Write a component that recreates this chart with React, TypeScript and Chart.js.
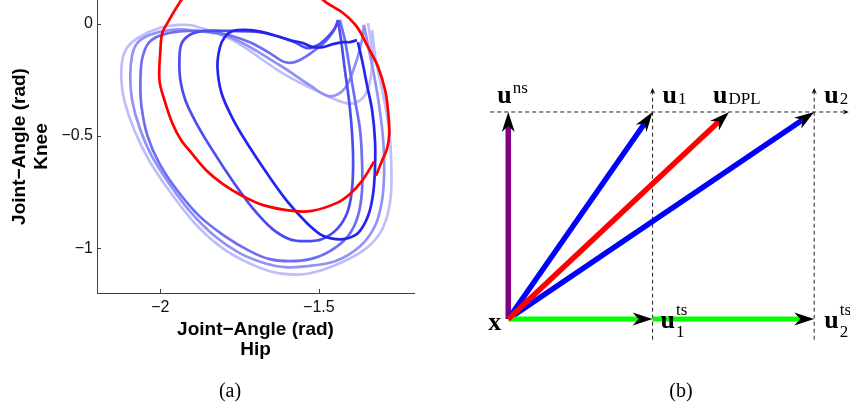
import React, { useEffect, useRef } from 'react';
import { Chart, registerables } from 'chart.js';

Chart.register(...registerables);

type Pt = [number, number];

// ---------- Panel (a): hip / knee joint-angle cycles (rad) ----------
const hipTicks = [-2, -1.5];
const kneeTicks = [-1, -0.5, 0];

// desired cycle; its top arc passes above the plotted knee range
const desiredCycle: Pt[] = [
  [-1.320, -0.677], [-1.301, -0.610], [-1.285, -0.556], [-1.278, -0.489], [-1.282, -0.386],
  [-1.291, -0.296], [-1.313, -0.193], [-1.345, -0.103], [-1.380, -0.013], [-1.424, 0.049],
  [-1.475, 0.094], [-1.513, 0.135], [-1.600, 0.180], [-1.830, 0.180], [-1.915, 0.135],
  [-1.940, 0.094], [-1.978, 0.004], [-1.994, -0.040], [-2.000, -0.117], [-2.003, -0.251],
  [-1.987, -0.341], [-1.962, -0.444], [-1.934, -0.520], [-1.908, -0.565], [-1.854, -0.655],
  [-1.804, -0.713], [-1.741, -0.767], [-1.676, -0.808], [-1.582, -0.834], [-1.522, -0.834],
  [-1.443, -0.798], [-1.402, -0.758], [-1.364, -0.700], [-1.326, -0.614],
];

const cycleA: Pt[] = [
  [-1.380, -0.072], [-1.402, -0.081], [-1.424, -0.081], [-1.456, -0.090], [-1.487, -0.103],
  [-1.519, -0.103], [-1.551, -0.085], [-1.592, -0.072], [-1.665, -0.040], [-1.718, -0.027],
  [-1.772, -0.031], [-1.797, -0.058], [-1.813, -0.108], [-1.820, -0.193], [-1.807, -0.309],
  [-1.772, -0.422], [-1.728, -0.529], [-1.665, -0.664], [-1.601, -0.789], [-1.538, -0.888],
  [-1.497, -0.937], [-1.465, -0.955], [-1.424, -0.960], [-1.377, -0.933], [-1.345, -0.857],
  [-1.329, -0.758], [-1.323, -0.641], [-1.323, -0.520], [-1.332, -0.386], [-1.348, -0.274],
  [-1.364, -0.161], [-1.377, -0.081],
];

const cycleB: Pt[] = [
  [-1.440, 0.018], [-1.430, -0.072], [-1.418, -0.206], [-1.405, -0.341], [-1.396, -0.475],
  [-1.392, -0.610], [-1.396, -0.744], [-1.411, -0.843], [-1.443, -0.915], [-1.491, -0.960],
  [-1.544, -0.969], [-1.592, -0.960], [-1.646, -0.915], [-1.709, -0.821], [-1.772, -0.700],
  [-1.835, -0.565], [-1.886, -0.444], [-1.921, -0.341], [-1.937, -0.251], [-1.940, -0.161],
  [-1.934, -0.090], [-1.908, -0.049], [-1.861, -0.031], [-1.782, -0.031], [-1.687, -0.036],
  [-1.623, -0.058], [-1.576, -0.081], [-1.538, -0.108], [-1.503, -0.094], [-1.472, -0.058],
  [-1.449, -0.018], [-1.440, 0.018],
];

const cycleC: Pt[] = [
  [-1.434, 0.018], [-1.418, -0.072], [-1.402, -0.206], [-1.386, -0.341], [-1.370, -0.475],
  [-1.364, -0.610], [-1.364, -0.744], [-1.377, -0.857], [-1.408, -0.946], [-1.465, -1.013],
  [-1.528, -1.049], [-1.592, -1.058], [-1.655, -1.049], [-1.718, -1.013], [-1.797, -0.946],
  [-1.877, -0.857], [-1.946, -0.744], [-2.003, -0.623], [-2.041, -0.498], [-2.060, -0.363],
  [-2.063, -0.251], [-2.057, -0.152], [-2.035, -0.081], [-1.987, -0.045], [-1.908, -0.031],
  [-1.813, -0.040], [-1.718, -0.081], [-1.655, -0.130], [-1.608, -0.170], [-1.576, -0.170],
  [-1.544, -0.148], [-1.513, -0.117], [-1.481, -0.081], [-1.456, -0.036], [-1.440, 0.009],
];

const cycleD: Pt[] = [
  [-1.358, -0.004], [-1.345, -0.094], [-1.326, -0.229], [-1.310, -0.363], [-1.297, -0.520],
  [-1.294, -0.655], [-1.301, -0.789], [-1.323, -0.901], [-1.370, -0.991], [-1.449, -1.058],
  [-1.544, -1.081], [-1.608, -1.085], [-1.671, -1.067], [-1.750, -1.022], [-1.829, -0.946],
  [-1.908, -0.834], [-1.972, -0.713], [-2.028, -0.587], [-2.066, -0.462], [-2.089, -0.341],
  [-2.095, -0.229], [-2.089, -0.139], [-2.073, -0.085], [-2.035, -0.049], [-1.972, -0.027],
  [-1.908, -0.027], [-1.782, -0.058], [-1.623, -0.184], [-1.528, -0.274], [-1.465, -0.323],
  [-1.418, -0.287], [-1.386, -0.184], [-1.364, -0.072], [-1.358, -0.004],
];

const cycleE: Pt[] = [
  [-1.332, -0.027], [-1.323, -0.139], [-1.307, -0.251], [-1.291, -0.363], [-1.278, -0.475],
  [-1.272, -0.610], [-1.272, -0.744], [-1.282, -0.843], [-1.307, -0.933], [-1.354, -1.004],
  [-1.434, -1.067], [-1.528, -1.112], [-1.592, -1.117], [-1.655, -1.103], [-1.734, -1.058],
  [-1.813, -0.991], [-1.892, -0.888], [-1.972, -0.744], [-2.035, -0.610], [-2.082, -0.475],
  [-2.114, -0.341], [-2.123, -0.251], [-2.120, -0.161], [-2.104, -0.103], [-2.066, -0.058],
  [-2.003, -0.018], [-1.940, -0.004], [-1.892, -0.009], [-1.772, -0.072], [-1.614, -0.220],
  [-1.497, -0.305], [-1.411, -0.354], [-1.370, -0.341], [-1.345, -0.287], [-1.332, -0.184],
  [-1.335, -0.094], [-1.345, 0.004],
];

const cycles = [cycleA, cycleB, cycleC, cycleD, cycleE];
const cycleColors = ['rgb(36,36,240)', 'rgb(76,76,241)', 'rgb(110,110,243)', 'rgb(146,146,246)', 'rgb(190,190,250)'];

// ---------- Panel (b): vector construction ----------
const origin: Pt = [0, 0];
const uNs: Pt = [0, 1];
const u1: Pt = [1, 1];
const uDpl: Pt = [1.53, 1];
const u2: Pt = [2.12, 1];
const u1Ts: Pt = [1, 0];
const u2Ts: Pt = [2.12, 0];
const levelGuide: Pt[] = [[-0.125, 1], [2.36, 1]];
const u1Guide: Pt[] = [[1, -0.1], [1, 1.116]];
const u2Guide: Pt[] = [[2.12, -0.1], [2.12, 1.116]];

const SANS = '"Liberation Sans", Arial, Helvetica, sans-serif';
const SERIF = '"Liberation Serif", "Times New Roman", serif';
const MINUS = '\u2212';

const toXY = (pts: Pt[]) => pts.map(([x, y]) => ({ x, y }));
const fmtTick = (v: number | string) => {
  const n = Number(v);
  return n < 0 ? MINUS + String(Math.abs(n)) : String(n);
};

// short tick marks pointing into the plot area
const inwardTicks = {
  id: 'inwardTicks',
  afterDraw(chart: any) {
    const { ctx, chartArea, scales } = chart;
    ctx.save();
    ctx.strokeStyle = '#404040';
    ctx.lineWidth = 1;
    ctx.beginPath();
    for (const t of scales.x.ticks) {
      const px = Math.round(scales.x.getPixelForValue(t.value)) + 0.5;
      ctx.moveTo(px, chartArea.bottom);
      ctx.lineTo(px, chartArea.bottom - 4);
    }
    for (const t of scales.y.ticks) {
      const py = Math.round(scales.y.getPixelForValue(t.value)) + 0.5;
      ctx.moveTo(chartArea.left, py);
      ctx.lineTo(chartArea.left + 4, py);
    }
    ctx.stroke();
    ctx.restore();
  },
};

const HEADS: Record<string, { L: number; W: number; N: number }> = {
  big: { L: 20, W: 6.5, N: 14 },
  small: { L: 6, W: 2.6, N: 4 },
};

function headGeometry(meta: any) {
  const pts = meta.data;
  const tip = pts[pts.length - 1];
  const prev = pts[pts.length - 2];
  const dx = tip.x - prev.x;
  const dy = tip.y - prev.y;
  const len = Math.hypot(dx, dy) || 1;
  const ux = dx / len;
  const uy = dy / len;
  return { tx: tip.x, ty: tip.y, ux, uy, nx: -uy, ny: ux };
}

type MathLabel = { at: Pt; base: string; sup?: string; sub?: string; dx: number; dy: number };
const vectorLabels: MathLabel[] = [
  { at: uNs, base: 'u', sup: 'ns', dx: -11, dy: -9 },
  { at: u1, base: 'u', sub: '1', dx: 10, dy: -9 },
  { at: uDpl, base: 'u', sub: 'DPL', dx: -16, dy: -9 },
  { at: u2, base: 'u', sub: '2', dx: 10, dy: -9 },
  { at: origin, base: 'x', dx: -20, dy: 11 },
  { at: u1Ts, base: 'u', sup: 'ts', sub: '1', dx: 8, dy: 9 },
  { at: u2Ts, base: 'u', sup: 'ts', sub: '2', dx: 10, dy: 9 },
];

const arrowPlugin = {
  id: 'arrowHeads',
  beforeDatasetDraw(chart: any, args: any) {
    const ds = chart.data.datasets[args.index];
    if (!ds.head) return;
    const { L, N } = HEADS[ds.head];
    const g = headGeometry(args.meta);
    const ctx = chart.ctx;
    const half = Math.max(8, L);
    const bx = g.tx - g.ux * N;
    const by = g.ty - g.uy * N;
    const fx = g.tx + g.ux * 4;
    const fy = g.ty + g.uy * 4;
    ctx.save();
    ctx.beginPath();
    ctx.rect(0, 0, chart.width, chart.height);
    ctx.moveTo(bx + g.nx * half, by + g.ny * half);
    ctx.lineTo(fx + g.nx * half, fy + g.ny * half);
    ctx.lineTo(fx - g.nx * half, fy - g.ny * half);
    ctx.lineTo(bx - g.nx * half, by - g.ny * half);
    ctx.closePath();
    ctx.clip('evenodd');
  },
  afterDatasetDraw(chart: any, args: any) {
    const ds = chart.data.datasets[args.index];
    if (ds.head) chart.ctx.restore();
  },
  afterDatasetsDraw(chart: any) {
    const ctx = chart.ctx;
    ctx.save();
    ctx.fillStyle = '#000';
    chart.data.datasets.forEach((ds: any, i: number) => {
      if (!ds.head) return;
      const { L, W, N } = HEADS[ds.head];
      const g = headGeometry(chart.getDatasetMeta(i));
      const bx = g.tx - g.ux * L;
      const by = g.ty - g.uy * L;
      ctx.beginPath();
      ctx.moveTo(g.tx, g.ty);
      ctx.lineTo(bx + g.nx * W, by + g.ny * W);
      ctx.lineTo(g.tx - g.ux * N, g.ty - g.uy * N);
      ctx.lineTo(bx - g.nx * W, by - g.ny * W);
      ctx.closePath();
      ctx.fill();
    });
    ctx.restore();
  },
  afterDraw(chart: any) {
    const ctx = chart.ctx;
    const { x: xs, y: ys } = chart.scales;
    ctx.save();
    ctx.fillStyle = '#000';
    ctx.textAlign = 'left';
    ctx.textBaseline = 'alphabetic';
    for (const lb of vectorLabels) {
      const px = xs.getPixelForValue(lb.at[0]) + lb.dx;
      const py = ys.getPixelForValue(lb.at[1]) + lb.dy;
      ctx.font = `bold 26px ${SERIF}`;
      ctx.fillText(lb.base, px, py);
      const w = ctx.measureText(lb.base).width + 1;
      ctx.font = `17px ${SERIF}`;
      if (lb.sup) ctx.fillText(lb.sup, px + w, py - (lb.sub ? 13 : 10));
      if (lb.sub) ctx.fillText(lb.sub, px + w, py + (lb.sup ? 9 : 1));
    }
    ctx.restore();
  },
};

export default function App() {
  const leftRef = useRef<HTMLCanvasElement>(null);
  const rightRef = useRef<HTMLCanvasElement>(null);

  useEffect(() => {
    const gaitSets: any[] = [
      { data: toXY(desiredCycle), borderColor: '#ff0000' },
      ...cycles.map((c, i) => ({ data: toXY(c), borderColor: cycleColors[i] })),
    ].map((d) => ({ ...d, showLine: true, fill: false, borderWidth: 2.7, tension: 0.35, pointRadius: 0 }));

    const left = new Chart(leftRef.current!, {
      type: 'scatter',
      data: { datasets: gaitSets },
      options: {
        responsive: false,
        animation: false,
        events: [],
        layout: { padding: { left: 0, right: 11, top: 0, bottom: 54 } },
        plugins: { legend: { display: false }, tooltip: { enabled: false } },
        scales: {
          x: {
            type: 'linear',
            min: -2.2,
            max: -1.2,
            afterBuildTicks: (s: any) => { s.ticks = hipTicks.map((value) => ({ value })); },
            afterFit: (s: any) => { s.height = 67; s.paddingLeft = 0; s.paddingRight = 0; },
            grid: { display: false, drawTicks: false },
            border: { display: true, color: '#404040', width: 1 },
            ticks: { font: { family: SANS, size: 16 }, color: '#111', padding: 5, maxRotation: 0, autoSkip: false, callback: fmtTick },
            title: {
              display: true,
              text: ['Joint\u2212Angle (rad)', 'Hip'],
              font: { family: SANS, size: 19, weight: 'bold', lineHeight: '20px' },
              color: '#000',
              padding: { top: 0, bottom: 0 },
            },
          },
          y: {
            type: 'linear',
            min: -1.2,
            max: 0.107,
            afterBuildTicks: (s: any) => { s.ticks = kneeTicks.map((value) => ({ value })); },
            afterFit: (s: any) => { s.width = 97; s.paddingTop = 0; s.paddingBottom = 0; },
            grid: { display: false, drawTicks: false },
            border: { display: true, color: '#404040', width: 1 },
            ticks: { font: { family: SANS, size: 16 }, color: '#111', padding: 4, autoSkip: false, callback: fmtTick },
            title: {
              display: true,
              text: ['Joint\u2212Angle (rad)', 'Knee'],
              font: { family: SANS, size: 19, weight: 'bold', lineHeight: '22px' },
              color: '#000',
              padding: { top: 9, bottom: 0 },
            },
          },
        },
      } as any,
      plugins: [inwardTicks],
    });

    const seg = (a: Pt, b: Pt) => toXY([a, b]);
    const vectorSets: any[] = [
      { data: seg(origin, uDpl), borderColor: '#ff0000', borderWidth: 5.5, head: 'big' },
      { data: seg(u1Ts, u2Ts), borderColor: '#00ff00', borderWidth: 5, head: 'big' },
      { data: seg(origin, u1Ts), borderColor: '#00ff00', borderWidth: 5, head: 'big' },
      { data: seg(origin, u2), borderColor: '#0000ff', borderWidth: 5.5, head: 'big' },
      { data: seg(origin, u1), borderColor: '#0000ff', borderWidth: 5.5, head: 'big' },
      { data: seg(origin, uNs), borderColor: '#800080', borderWidth: 5.5, head: 'big' },
      { data: toXY(levelGuide), borderColor: '#222', borderWidth: 1, borderDash: [4, 3], head: 'small' },
      { data: toXY(u1Guide), borderColor: '#222', borderWidth: 1, borderDash: [4, 3], head: 'small' },
      { data: toXY(u2Guide), borderColor: '#222', borderWidth: 1, borderDash: [4, 3], head: 'small' },
    ].map((d) => ({ ...d, showLine: true, fill: false, tension: 0, pointRadius: 0, borderCapStyle: 'butt' }));

    const right = new Chart(rightRef.current!, {
      type: 'scatter',
      data: { datasets: vectorSets },
      options: {
        responsive: false,
        animation: false,
        events: [],
        layout: { padding: 0 },
        plugins: { legend: { display: false }, tooltip: { enabled: false } },
        scales: {
          x: { type: 'linear', display: false, min: -0.577, max: 2.368 },
          y: { type: 'linear', display: false, min: -0.459, max: 1.541 },
        },
      } as any,
      plugins: [arrowPlugin],
    });

    return () => {
      left.destroy();
      right.destroy();
    };
  }, []);

  const caption: React.CSSProperties = {
    position: 'absolute',
    top: 379,
    width: 100,
    textAlign: 'center',
    font: `20px ${SERIF}`,
    lineHeight: '22px',
    color: '#000',
  };

  return (
    <div style={{ position: 'fixed', left: 0, top: 0, width: 850, height: 414, background: '#fff', overflow: 'hidden' }}>
      <canvas ref={leftRef} width={425} height={414} style={{ position: 'absolute', left: 0, top: 0, width: 425, height: 414 }} />
      <canvas ref={rightRef} width={425} height={414} style={{ position: 'absolute', left: 425, top: 0, width: 425, height: 414 }} />
      <div style={{ ...caption, left: 180 }}>(a)</div>
      <div style={{ ...caption, left: 631 }}>(b)</div>
    </div>
  );
}
